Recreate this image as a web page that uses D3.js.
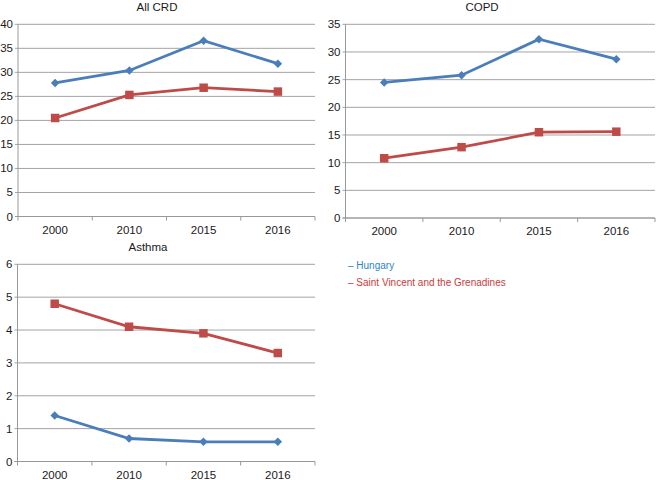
<!DOCTYPE html>
<html>
<head>
<meta charset="utf-8">
<script src="https://cdn.jsdelivr.net/npm/d3@7"></script>
<style>
body { margin: 0; background: #fff; }
svg { font-family: "Liberation Sans", Arial, Helvetica, sans-serif; }
</style>
</head>
<body>
<script>
var years = ["2000", "2010", "2015", "2016"];
var seriesNames = ["Hungary", "Saint Vincent and the Grenadines"];

var crdHungary = [27.8, 30.4, 36.6, 31.8];
var crdSVG = [20.5, 25.3, 26.8, 26.0];
var copdHungary = [24.5, 25.8, 32.3, 28.7];
var copdSVG = [10.8, 12.8, 15.5, 15.6];
var asthmaHungary = [1.4, 0.7, 0.6, 0.6];
var asthmaSVG = [4.8, 4.1, 3.9, 3.3];

var crdTicks = [0, 5, 10, 15, 20, 25, 30, 35, 40];
var copdTicks = [0, 5, 10, 15, 20, 25, 30, 35];
var asthmaTicks = [0, 1, 2, 3, 4, 5, 6];

var blue = "#4a7ebb", red = "#be4b48";

var svg = d3.select("body").append("svg")
    .attr("width", 659)
    .attr("height", 480);

function panel(o){
    var x = d3.scaleBand().domain(years).range([o.x0, o.x1]);
    var y = d3.scaleLinear().domain([0, o.max]).range([o.y0, o.y1]);
    var g = svg.append("g");

    // gridlines
    g.selectAll("line.grid").data(o.ticks).enter().append("line")
	.attr("x1", o.x0 - 3).attr("x2", o.x1)
	.attr("y1", function(d){ return y(d); })
	.attr("y2", function(d){ return y(d); })
	.attr("stroke", "#a3a3a3").attr("stroke-width", 1);

    g.selectAll("text.ylab").data(o.ticks).enter().append("text")
	.attr("x", o.x0 - 5)
	.attr("y", function(d){ return y(d) + 4; })
	.attr("text-anchor", "end")
	.attr("font-size", 11.5).attr("fill", "#1a1a1a")
	.text(function(d){ return d; });

    // axes
    g.append("line").attr("x1", o.x0).attr("x2", o.x0)
	.attr("y1", o.y1).attr("y2", o.y0)
	.attr("stroke", "#999");
    g.append("line").attr("x1", o.x0 - 3).attr("x2", o.x1)
	.attr("y1", o.y0).attr("y2", o.y0)
	.attr("stroke", "#999");
    var edges = years.map(function(d){ return x(d); }).concat([o.x1]);
    g.selectAll("line.xt").data(edges).enter().append("line")
	.attr("x1", function(d){ return d; }).attr("x2", function(d){ return d; })
	.attr("y1", o.y0).attr("y2", o.y0 + 4)
	.attr("stroke", "#999");

    g.selectAll("text.xlab").data(years).enter().append("text")
	.attr("x", function(d){ return x(d) + x.bandwidth() / 2; })
	.attr("y", o.y0 + 17)
	.attr("text-anchor", "middle")
	.attr("font-size", 11.5).attr("fill", "#1a1a1a")
	.text(function(d){ return d; });

    g.append("text")
	.attr("x", o.tx).attr("y", o.ty)
	.attr("text-anchor", "middle")
	.attr("font-size", 11.5).attr("fill", "#1a1a1a")
	.text(o.title);

    var line = d3.line()
	.x(function(d, i){ return x(years[i]) + x.bandwidth() / 2; })
	.y(function(d){ return y(d); });

    [[o.a, blue, "diamond"], [o.b, red, "square"]].forEach(function(s){
	g.append("path").datum(s[0])
	    .attr("d", line)
	    .attr("fill", "none")
	    .attr("stroke", s[1])
	    .attr("stroke-width", 2.8);
	var sym = s[2] == "diamond"
	    ? d3.symbol().type(d3.symbolSquare).size(36)
	    : d3.symbol().type(d3.symbolSquare).size(72);
	g.selectAll(null).data(s[0]).enter().append("path")
	    .attr("d", sym)
	    .attr("fill", s[1])
	    .attr("transform", function(d, i){
		var t = "translate(" + (x(years[i]) + x.bandwidth() / 2) + "," + y(d) + ")";
		return s[2] == "diamond" ? t + " rotate(45)" : t;
	    });
    });
}

panel({title: "All CRD", x0: 18, x1: 315, y0: 216.5, y1: 24.3, max: 40,
       ticks: crdTicks, a: crdHungary, b: crdSVG, tx: 157, ty: 11});
panel({title: "COPD", x0: 345.5, x1: 655, y0: 218, y1: 24.3, max: 35,
       ticks: copdTicks, a: copdHungary, b: copdSVG, tx: 482, ty: 11});
panel({title: "Asthma", x0: 17.5, x1: 315, y0: 461.5, y1: 264.3, max: 6,
       ticks: asthmaTicks, a: asthmaHungary, b: asthmaSVG, tx: 148, ty: 251});

// legend
var legendColors = ["#2f83c4", "#cc3a3c"];
svg.selectAll("text.legend").data(seriesNames).enter().append("text")
    .attr("x", 348)
    .attr("y", function(d, i){ return 268.5 + i * 17; })
    .attr("font-size", 10)
    .attr("fill", function(d, i){ return legendColors[i]; })
    .text(function(d){ return "\u2013 " + d; });
</script>
</body>
</html>
